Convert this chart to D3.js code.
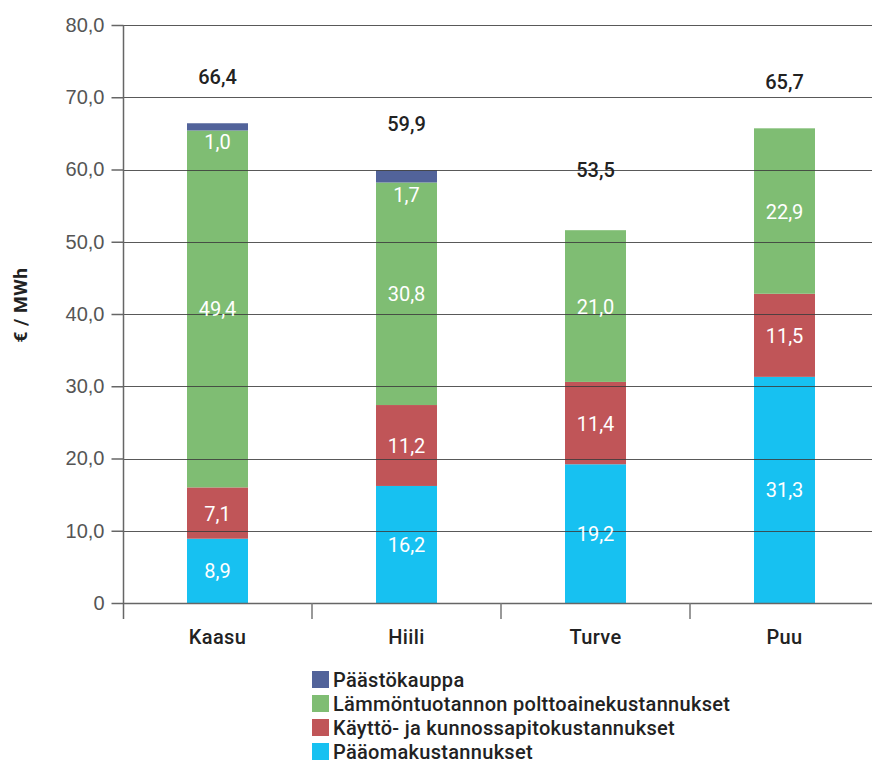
<!DOCTYPE html>
<html>
<head>
<meta charset="utf-8">
<script src="https://cdn.jsdelivr.net/npm/d3@7/dist/d3.min.js"></script>
<style>
  html, body { margin: 0; padding: 0; background: #fff; }
  svg { display: block; font-family: Roboto, "Noto Sans", sans-serif; }
</style>
</head>
<body>
<svg id="chart" width="872" height="764"></svg>
<script>
// Heat production cost per fuel, €/MWh
const categories = ["Kaasu", "Hiili", "Turve", "Puu"];
const seriesNames = [
  "Pääomakustannukset",
  "Käyttö- ja kunnossapitokustannukset",
  "Lämmöntuotannon polttoainekustannukset",
  "Päästökauppa"
];
const paaoma     = [8.9, 16.2, 19.2, 31.3];
const kaytto     = [7.1, 11.2, 11.4, 11.5];
const polttoaine = [49.4, 30.8, 21.0, 22.9];
const paasto     = [1.0, 1.7, 0, 0];
const totals     = [66.4, 59.9, 53.5, 65.7];
const yTicks     = [0, 10, 20, 30, 40, 50, 60, 70, 80];

const colors = ["#17c1f1", "#c05558", "#7fbd73", "#52639a"];
const seriesValues = [paaoma, kaytto, polttoaine, paasto];

const rows = categories.map((c, i) => {
  const r = { cat: c };
  seriesNames.forEach((s, k) => { r[s] = seriesValues[k][i]; });
  return r;
});

const svg = d3.select("#chart");
const plotLeft = 123, plotTop = 25, plotBottom = 603;
const bandW = 189;

const x = d3.scaleBand()
  .domain(categories)
  .range([plotLeft, plotLeft + bandW * categories.length])
  .paddingInner(0).paddingOuter(0);
const barW = 61;

const y = d3.scaleLinear().domain([0, 80]).range([plotBottom, plotTop]);

const fmt = v => d3.format(".1f")(v).replace(".", ",");

const stacked = d3.stack().keys(seriesNames)(rows);

// bars
const gBars = svg.append("g");
stacked.forEach((layer, k) => {
  gBars.selectAll(null)
    .data(layer.filter(d => d[1] - d[0] > 0))
    .join("rect")
    .attr("x", d => x(d.data.cat) + (x.bandwidth() - barW) / 2)
    .attr("width", barW)
    .attr("y", d => y(d[1]))
    .attr("height", d => y(d[0]) - y(d[1]))
    .attr("fill", colors[k]);
});

// horizontal grid lines, drawn over the bars
const gGrid = svg.append("g");
gGrid.selectAll("line")
  .data(yTicks.filter(t => t > 0))
  .join("line")
  .attr("x1", plotLeft).attr("x2", 872)
  .attr("y1", d => Math.round(y(d)) + 0.5)
  .attr("y2", d => Math.round(y(d)) + 0.5)
  .attr("stroke", "#3c3c3c")
  .attr("stroke-opacity", 0.85)
  .attr("stroke-width", 1.2);

// y axis
const yAxis = d3.axisLeft(y)
  .tickValues(yTicks)
  .tickSize(12)
  .tickPadding(7)
  .tickFormat(d => d === 0 ? "0" : fmt(d));
const gy = svg.append("g")
  .attr("transform", `translate(${plotLeft + 0.5},0)`)
  .call(yAxis);
gy.select(".domain").remove();
gy.selectAll(".tick line").attr("stroke", "#666").attr("stroke-width", 1.5);
gy.selectAll(".tick text")
  .attr("fill", "#555")
  .style("font-size", "20px")
  .style("font-weight", 300);
svg.append("line")
  .attr("x1", plotLeft + 0.5).attr("x2", plotLeft + 0.5)
  .attr("y1", plotTop).attr("y2", 619)
  .attr("stroke", "#666").attr("stroke-width", 1.5);

// baseline and category separators
svg.append("line")
  .attr("x1", plotLeft).attr("x2", 872)
  .attr("y1", Math.round(y(0)) + 0.5).attr("y2", Math.round(y(0)) + 0.5)
  .attr("stroke", "#666").attr("stroke-width", 1.5);
svg.append("g").selectAll("line")
  .data(categories.slice(1))
  .join("line")
  .attr("x1", d => x(d)).attr("x2", d => x(d))
  .attr("y1", y(0)).attr("y2", 619)
  .attr("stroke", "#777").attr("stroke-width", 1.5);

// category labels
svg.append("g").selectAll("text")
  .data(categories)
  .join("text")
  .attr("x", d => x(d) + x.bandwidth() / 2)
  .attr("y", 644)
  .attr("text-anchor", "middle")
  .attr("fill", "#222")
  .style("font-size", "20px")
  .style("font-weight", 500)
  .style("letter-spacing", "0.4px")
  .text(d => d);

// segment value labels
const gVals = svg.append("g");
stacked.forEach((layer, k) => {
  gVals.selectAll(null)
    .data(layer.filter(d => d[1] - d[0] > 0))
    .join("text")
    .attr("x", d => x(d.data.cat) + x.bandwidth() / 2)
    .attr("y", d => {
      if (k === 3) return y(d[0]) + 19; // emission label sits just below its thin slice
      return (y(d[0]) + y(d[1])) / 2 + 7.5;
    })
    .attr("text-anchor", "middle")
    .attr("fill", "#fff")
    .style("font-size", "20px")
    .text(d => fmt(d[1] - d[0]));
});

// totals
svg.append("g").selectAll("text")
  .data(categories)
  .join("text")
  .attr("x", d => x(d) + x.bandwidth() / 2)
  .attr("y", (d, i) => y(totals[i]) - 39)
  .attr("text-anchor", "middle")
  .attr("fill", "#222")
  .style("font-size", "20px")
  .style("font-weight", 500)
  .text((d, i) => fmt(totals[i]));

// y axis title
svg.append("text")
  .attr("transform", "translate(27,305) rotate(-90)")
  .attr("text-anchor", "middle")
  .attr("fill", "#222")
  .style("font-size", "19px")
  .style("font-weight", 700)
  .style("letter-spacing", "0.5px")
  .text("€ / MWh");

// legend (top entry is the topmost slice)
const legendOrder = [3, 2, 1, 0];
const gLeg = svg.append("g").attr("transform", "translate(312,671)");
legendOrder.forEach((k, i) => {
  const row = gLeg.append("g").attr("transform", `translate(0,${i * 24})`);
  row.append("rect").attr("width", 17).attr("height", 17).attr("fill", colors[k]);
  row.append("text")
    .attr("x", 21).attr("y", 15.5)
    .attr("fill", "#222")
    .style("font-size", "20px")
    .style("font-weight", 500)
    .style("letter-spacing", "0.3px")
    .text(seriesNames[k]);
});
</script>
</body>
</html>
